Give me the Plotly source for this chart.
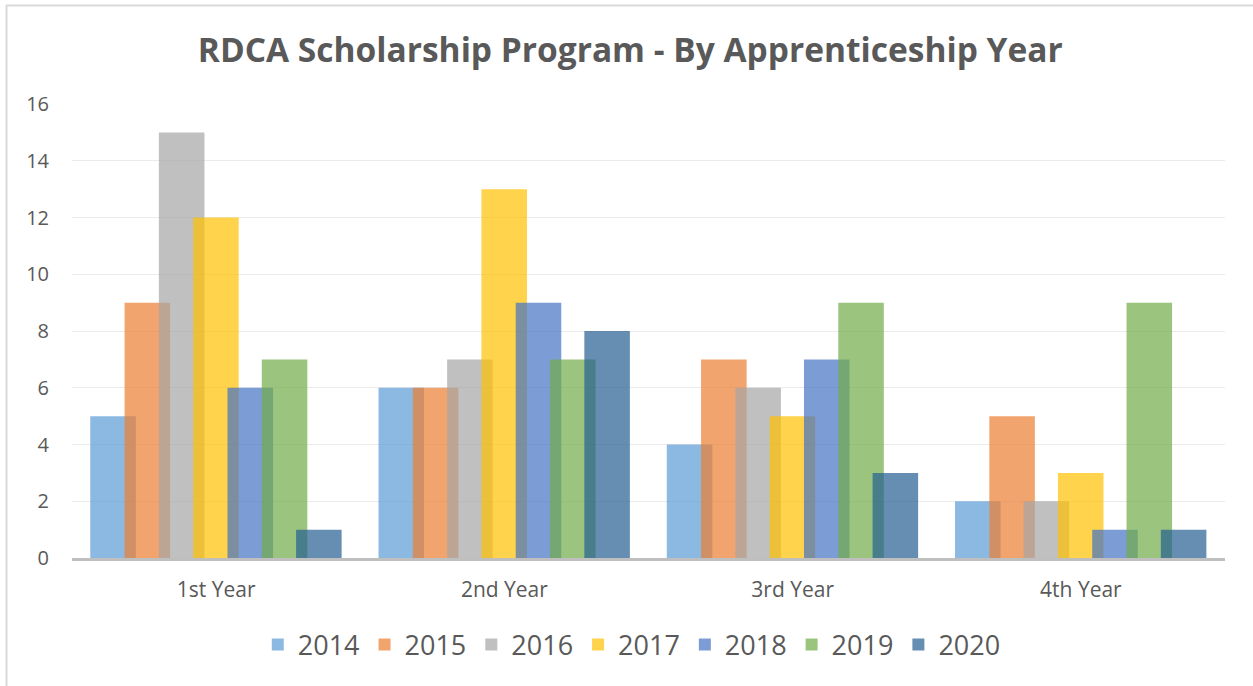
import plotly.graph_objects as go

categories = ["1st Year", "2nd Year", "3rd Year", "4th Year"]
years = ["2014", "2015", "2016", "2017", "2018", "2019", "2020"]
v2014 = [5, 6, 4, 2]
v2015 = [9, 6, 7, 5]
v2016 = [15, 7, 6, 2]
v2017 = [12, 13, 5, 3]
v2018 = [6, 9, 7, 1]
v2019 = [7, 7, 9, 9]
v2020 = [1, 8, 3, 1]
series = [v2014, v2015, v2016, v2017, v2018, v2019, v2020]
colors = ["rgba(91,155,213,0.7)", "rgba(237,125,49,0.7)", "rgba(165,165,165,0.7)",
          "rgba(255,192,0,0.7)", "rgba(68,114,196,0.7)", "rgba(112,173,71,0.7)",
          "rgba(37,94,145,0.7)"]

W, H = 1253, 686
L, R, T, B = 72, 27.5, 104, 128

bar_w = 0.158
step = 0.119
start = -0.4366

fig = go.Figure()
for i, (name, vals, col) in enumerate(zip(years, series, colors)):
    fig.add_trace(go.Bar(
        x=categories, y=vals, name=name,
        marker=dict(color=col, line=dict(width=0)),
        width=bar_w, offset=start + i * step,
    ))

fig.update_layout(
    width=W, height=H,
    barmode="overlay",
    paper_bgcolor="white", plot_bgcolor="white",
    margin=dict(l=L, r=R, t=T, b=B, autoexpand=False),
    title=dict(text="<b>RDCA Scholarship Program - By Apprenticeship Year</b>",
               font=dict(family="Open Sans", size=33.5, color="#595959"),
               x=0.503, xanchor="center", xref="container",
               y=1 - 50 / H, yanchor="middle", yref="container"),
    font=dict(family="Open Sans", color="#595959"),
    legend=dict(orientation="h", x=0.4855, xanchor="center", xref="paper",
                y=1 - 645 / H, yanchor="middle", yref="container",
                font=dict(size=27, color="#595959"), itemwidth=30,
                traceorder="normal"),
    xaxis=dict(type="category", range=[-0.5, 3.5], showgrid=False,
               showline=True, linecolor="#BFBFBF", linewidth=3,
               ticks="", tickfont=dict(size=21, color="#595959"),
               ticklabelstandoff=11),
    yaxis=dict(range=[0, 16], dtick=2, showgrid=True, gridcolor="#EBEBEB",
               gridwidth=1, zeroline=False, showline=False,
               tickfont=dict(size=20, color="#595959"),
               ticklabelstandoff=22),
    shapes=[
        dict(type="line", xref="paper", yref="paper",
             x0=(6.5 - L) / (W - L - R), x1=(6.5 - L) / (W - L - R),
             y0=(H - B - 5) / (H - T - B), y1=(H - B - 700) / (H - T - B),
             line=dict(color="#D9D9D9", width=2)),
        dict(type="line", xref="paper", yref="paper",
             x0=(6 - L) / (W - L - R), x1=(1260 - L) / (W - L - R),
             y0=(H - B - 5.5) / (H - T - B), y1=(H - B - 5.5) / (H - T - B),
             line=dict(color="#D9D9D9", width=2)),
    ],
)

fig.write_html("out.html", config={"displayModeBar": False},
               post_script="document.body.style.margin='0px';document.body.style.overflow='hidden';")
